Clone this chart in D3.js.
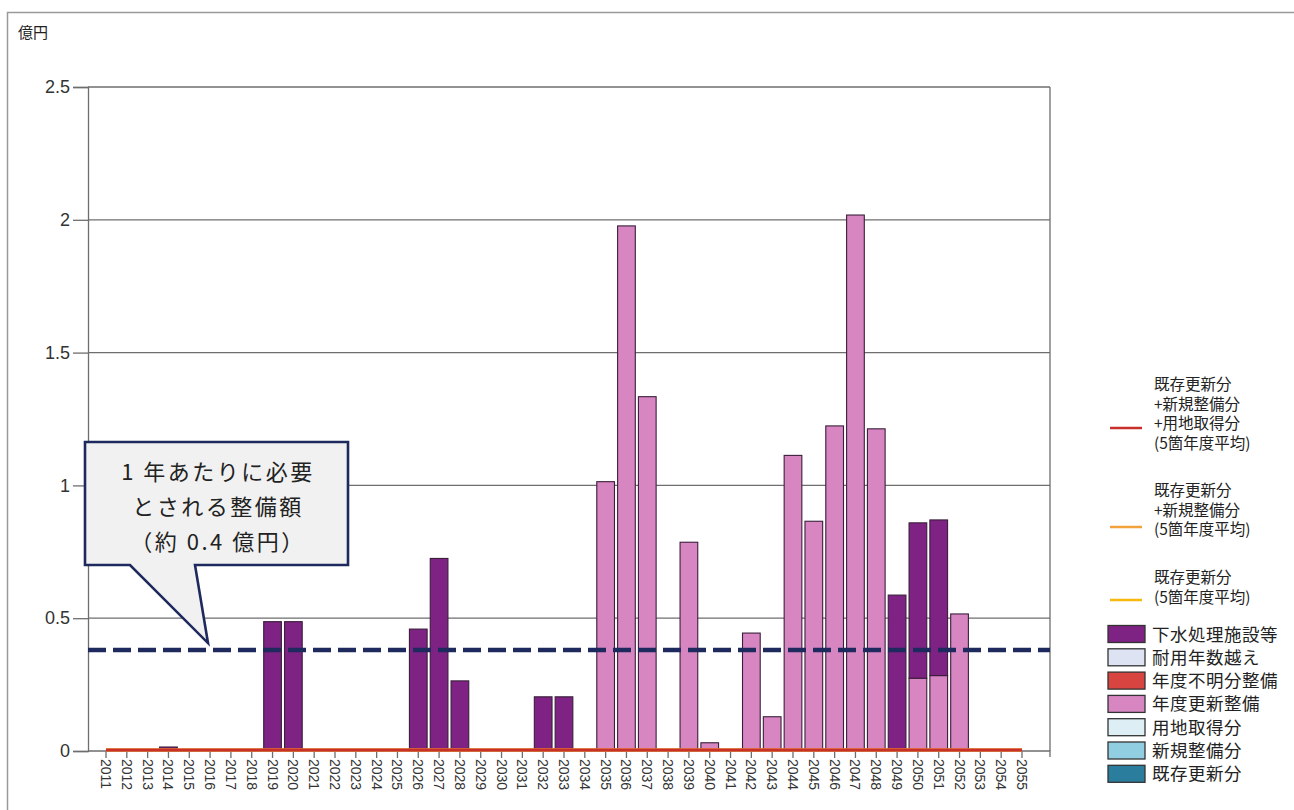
<!DOCTYPE html>
<html lang="ja">
<head>
<meta charset="utf-8">
<script src="https://cdn.jsdelivr.net/npm/d3@7"></script>
<style>
  html, body { margin: 0; padding: 0; background: #fff; }
  svg { display: block; }
  .num { font-family: "Liberation Sans", Arial, sans-serif; fill: #333; }
  .jp { font-family: "Noto Sans CJK JP", "Noto Sans", sans-serif; fill: #222; }
</style>
</head>
<body>
<svg id="chart" width="1294" height="810"></svg>
<script>
// 年度 (x categories)
const years = d3.range(2011, 2056).map(String);

// 下水処理施設等 (億円)
const gesui = [0,0,0,0.015,0.005,0,0,0,0.487,0.487,0,0,0,0,0,0.459,0.725,0.264,0,0,0,0.204,0.204,0,0,0,0,0,0,0,0,0,0,0,0,0,0,0,0.587,0.585,0.586,0,0,0,0];
// 年度更新整備 (億円)
const nendoKoshin = [0,0,0,0,0,0,0,0,0,0,0,0,0,0,0,0,0,0,0,0,0,0,0,0,1.014,1.977,1.334,0,0.786,0.031,0,0.444,0.129,1.113,0.865,1.224,2.018,1.213,0,0.274,0.284,0.516,0,0,0];
// 値ゼロの系列
const zeros = years.map(() => 0);
const kizon = zeros, shinki = zeros, yochi = zeros, fumei = zeros, taiyo = zeros;

// 5箇年度平均の折れ線
const avgAll = zeros;        // 既存更新分+新規整備分+用地取得分
const avgKizonShinki = zeros; // 既存更新分+新規整備分
const avgKizon = zeros;      // 既存更新分

// 1年あたりに必要とされる整備額 (億円)
const requiredPerYear = 0.38;

const yTicks = [0, 0.5, 1, 1.5, 2, 2.5];

// stack order: bottom → top
const barSeries = [
  { key: "既存更新分", values: kizon, color: "#2B7D9E" },
  { key: "新規整備分", values: shinki, color: "#92CEE2" },
  { key: "用地取得分", values: yochi, color: "#DDEFF4" },
  { key: "年度更新整備", values: nendoKoshin, color: "#D786C2" },
  { key: "年度不明分整備", values: fumei, color: "#D8443F" },
  { key: "耐用年数越え", values: taiyo, color: "#DDE3F3" },
  { key: "下水処理施設等", values: gesui, color: "#7E2283" }
];

const lineSeries = [
  { lines: ["既存更新分", "+新規整備分", "+用地取得分", "(5箇年度平均)"], values: avgAll, color: "#C9302C" },
  { lines: ["既存更新分", "+新規整備分", "(5箇年度平均)"], values: avgKizonShinki, color: "#F2A23A" },
  { lines: ["既存更新分", "(5箇年度平均)"], values: avgKizon, color: "#F7B90F" }
];

const svg = d3.select("#chart");

// outer frame
svg.append("rect").attr("x", 7.5).attr("y", 12.5).attr("width", 1300).attr("height", 820)
  .attr("fill", "none").attr("stroke", "#9a9a9a").attr("stroke-width", 1.5);

svg.append("text").attr("class", "jp").attr("x", 18).attr("y", 38)
  .attr("font-size", 15).text("億円");

const plot = { left: 88, right: 1050, top: 87, bottom: 751 };
const step = (1022 - 106) / (years.length - 1);

const x = d3.scaleBand().domain(years)
  .range([106 - step / 2, 1022 + step / 2])
  .paddingInner(0.15).paddingOuter(0.075);
const y = d3.scaleLinear().domain([0, 2.5]).range([plot.bottom, plot.top]);

// gridlines
svg.append("g").selectAll("line").data(yTicks.filter(d => d > 0)).join("line")
  .attr("x1", plot.left).attr("x2", plot.right)
  .attr("y1", d => y(d)).attr("y2", d => y(d))
  .attr("stroke", "#6e6e6e").attr("stroke-width", 1.3);
// right border
svg.append("line").attr("x1", plot.right).attr("x2", plot.right)
  .attr("y1", plot.top).attr("y2", plot.bottom)
  .attr("stroke", "#6e6e6e").attr("stroke-width", 1.3);

// stacked bars
const table = years.map((yr, i) => {
  const row = { year: yr };
  barSeries.forEach(s => { row[s.key] = s.values[i]; });
  return row;
});
const stacked = d3.stack().keys(barSeries.map(s => s.key))(table);
const barsG = svg.append("g");
stacked.forEach((layer, li) => {
  barsG.selectAll(null).data(layer.filter(d => d[1] - d[0] > 0)).join("rect")
    .attr("x", d => x(d.data.year))
    .attr("width", x.bandwidth())
    .attr("y", d => y(d[1]))
    .attr("height", d => y(d[0]) - y(d[1]))
    .attr("fill", barSeries[li].color)
    .attr("stroke", "#3a1f3a").attr("stroke-width", 1.1);
});

// y axis
const yAxis = svg.append("g").attr("transform", `translate(${plot.left},0)`)
  .call(d3.axisLeft(y).tickValues(yTicks).tickFormat(d3.format("")).tickSize(15).tickPadding(3));
yAxis.select(".domain").attr("stroke", "#6e6e6e").attr("stroke-width", 1.3);
yAxis.selectAll(".tick line").attr("stroke", "#6e6e6e").attr("stroke-width", 1.3);
yAxis.selectAll(".tick text").attr("class", "num").attr("font-size", 18).attr("fill", "#333");

// x axis
const xAxis = svg.append("g").attr("transform", `translate(0,${plot.bottom})`)
  .call(d3.axisBottom(x).tickSize(7).tickSizeOuter(0).tickPadding(0));
xAxis.select(".domain").attr("d", `M${plot.left},0H${plot.right}V6`).attr("stroke", "#6e6e6e").attr("stroke-width", 1.3);
xAxis.selectAll(".tick line").attr("stroke", "#6e6e6e").attr("stroke-width", 1.3);
xAxis.selectAll(".tick text").attr("class", "num")
  .attr("font-size", 14).attr("fill", "#333")
  .attr("x", 0).attr("y", 0).attr("dy", null)
  .attr("text-anchor", "start")
  .attr("transform", "translate(-5,8) rotate(90)");

// 5箇年度平均 lines (drawn bottom-up so the red one sits on top)
const line = d3.line().x((d, i) => x(years[i]) + x.bandwidth() / 2).y(d => y(d));
lineSeries.slice().reverse().forEach(s => {
  svg.append("path").datum(s.values).attr("d", line)
    .attr("fill", "none").attr("stroke", s.color).attr("stroke-width", 3)
    .attr("transform", "translate(0,-1)");
});

// required amount (dashed)
svg.append("line").attr("x1", plot.left).attr("x2", plot.right)
  .attr("y1", y(requiredPerYear)).attr("y2", y(requiredPerYear))
  .attr("stroke", "#1E2A5E").attr("stroke-width", 4.5).attr("stroke-dasharray", "18,7");

// callout
const tipY = y(requiredPerYear) - 7;
const callout = svg.append("g");
callout.append("path")
  .attr("d", `M85,442 H348 V565 H195 L208,${tipY} L130,565 H85 Z`)
  .attr("fill", "#F1F1F1").attr("stroke", "#1E2A5E").attr("stroke-width", 2.6)
  .attr("stroke-linejoin", "miter");
const calloutLines = ["1 年あたりに必要", "とされる整備額", "（約 0.4 億円）"];
callout.selectAll("text").data(calloutLines).join("text")
  .attr("class", "jp").attr("x", 218).attr("y", (d, i) => 480 + i * 35)
  .attr("text-anchor", "middle").attr("font-size", 22).attr("letter-spacing", 2.5)
  .attr("fill", "#111").text(d => d);

// legend: lines
const legLineY = [428, 527, 600];
const legTextTop = [384, 490, 577];
lineSeries.forEach((s, i) => {
  svg.append("line").attr("x1", 1110).attr("x2", 1142)
    .attr("y1", legLineY[i]).attr("y2", legLineY[i])
    .attr("stroke", s.color).attr("stroke-width", 2.5);
  svg.append("g").selectAll("text").data(s.lines).join("text")
    .attr("class", "jp").attr("x", 1154).attr("y", (d, j) => legTextTop[i] + 6 + j * 19.5)
    .attr("font-size", 15.5).attr("fill", "#222").text(d => d);
});

// legend: bars (top → bottom)
const legendBars = barSeries.slice().reverse();
const legG = svg.append("g");
legendBars.forEach((s, i) => {
  const cy = 634 + i * 23.3;
  legG.append("rect").attr("x", 1108).attr("y", cy - 8.5).attr("width", 37).attr("height", 17)
    .attr("fill", s.color).attr("stroke", "#333").attr("stroke-width", 1.3);
  legG.append("text").attr("class", "jp").attr("x", 1152).attr("y", cy + 6.5)
    .attr("font-size", 17.5).attr("letter-spacing", 0.5).attr("fill", "#222").text(s.key);
});
</script>
</body>
</html>
